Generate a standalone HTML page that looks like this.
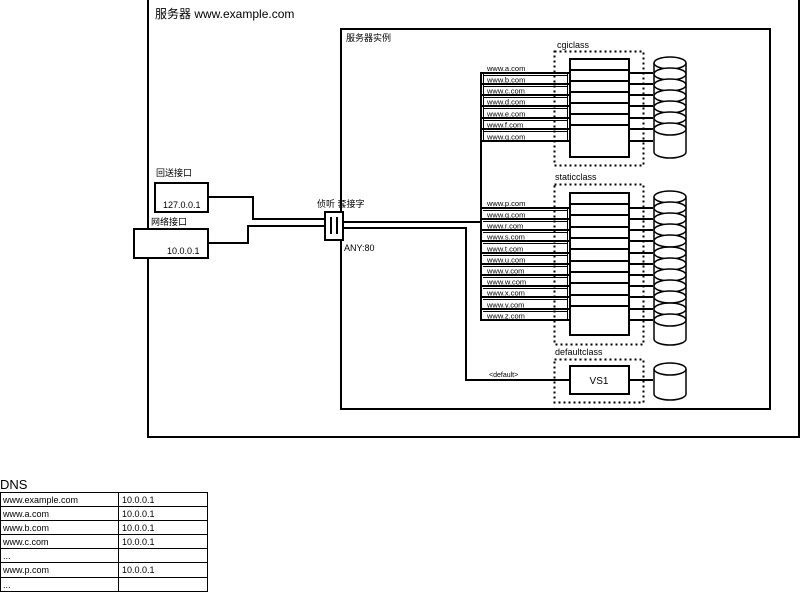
<!DOCTYPE html>
<html><head><meta charset="utf-8"><style>
body{margin:0;background:#fff}
svg{display:block}
text{font-family:"Liberation Sans","Noto Sans CJK SC",sans-serif;fill:#000}
.s{font-size:7.5px}
.t{font-size:9px}
</style></head><body>
<svg width="800" height="592" viewBox="0 0 800 592" xmlns="http://www.w3.org/2000/svg">
<g fill="none" stroke="#000" stroke-width="2">
<rect x="148" y="-1" width="651" height="438"/>
<rect x="341" y="29" width="429" height="380"/>
</g>
<text x="155" y="18" style="font-size:12px">服务器 www.example.com</text>
<text x="346" y="41" class="t">服务器实例</text>
<text x="557" y="48" class="t">cgiclass</text>
<rect x="554.5" y="51.5" width="89" height="114" fill="none" stroke="#000" stroke-width="2" stroke-dasharray="2,3"/>
<rect x="570" y="59" width="59" height="98" fill="#fff" stroke="#000" stroke-width="2"/>
<g stroke="#000" stroke-width="2">
<line x1="570" y1="70" x2="629" y2="70"/><line x1="570" y1="81" x2="629" y2="81"/><line x1="570" y1="92" x2="629" y2="92"/><line x1="570" y1="103" x2="629" y2="103"/><line x1="570" y1="114" x2="629" y2="114"/><line x1="570" y1="125" x2="629" y2="125"/>
<line x1="481" y1="73" x2="570" y2="73"/><line x1="481" y1="84" x2="570" y2="84"/><line x1="481" y1="95" x2="570" y2="95"/><line x1="481" y1="106" x2="570" y2="106"/><line x1="481" y1="118" x2="570" y2="118"/><line x1="481" y1="129" x2="570" y2="129"/><line x1="481" y1="141" x2="570" y2="141"/>
<line x1="629" y1="73" x2="653" y2="73"/><line x1="629" y1="84" x2="653" y2="84"/><line x1="629" y1="95" x2="653" y2="95"/><line x1="629" y1="106" x2="653" y2="106"/><line x1="629" y1="118" x2="653" y2="118"/><line x1="629" y1="129" x2="653" y2="129"/><line x1="629" y1="141" x2="653" y2="141"/>
</g>
<g stroke="#000" stroke-width="1"><line x1="483.5" y1="74" x2="483.5" y2="141"/><line x1="567.5" y1="74" x2="567.5" y2="141"/>
<line x1="483" y1="75.5" x2="568" y2="75.5"/><line x1="483" y1="86.5" x2="568" y2="86.5"/><line x1="483" y1="97.5" x2="568" y2="97.5"/><line x1="483" y1="108.5" x2="568" y2="108.5"/><line x1="483" y1="120.5" x2="568" y2="120.5"/><line x1="483" y1="131.5" x2="568" y2="131.5"/></g>
<text x="487" y="71" class="s">www.a.com</text><text x="487" y="82.5" class="s">www.b.com</text><text x="487" y="93.5" class="s">www.c.com</text><text x="487" y="104.5" class="s">www.d.com</text><text x="487" y="116.5" class="s">www.e.com</text><text x="487" y="127.5" class="s">www.f.com</text><text x="487" y="139.5" class="s">www.g.com</text>
<g fill="#fff" stroke="#000" stroke-width="1.5">
<path d="M654 63 V152 A16 6 0 0 0 686 152 V63"/>
<ellipse cx="670" cy="63" rx="16" ry="6"/><ellipse cx="670" cy="74" rx="16" ry="6"/><ellipse cx="670" cy="85" rx="16" ry="6"/><ellipse cx="670" cy="96" rx="16" ry="6"/><ellipse cx="670" cy="107" rx="16" ry="6"/><ellipse cx="670" cy="118" rx="16" ry="6"/><ellipse cx="670" cy="129" rx="16" ry="6"/>
</g>
<text x="555" y="180" class="t">staticclass</text>
<rect x="554.5" y="184.5" width="89" height="160" fill="none" stroke="#000" stroke-width="2" stroke-dasharray="2,3"/>
<rect x="570" y="193" width="59" height="142" fill="#fff" stroke="#000" stroke-width="2"/>
<g stroke="#000" stroke-width="2">
<line x1="570" y1="204" x2="629" y2="204"/><line x1="570" y1="215" x2="629" y2="215"/><line x1="570" y1="227" x2="629" y2="227"/><line x1="570" y1="238" x2="629" y2="238"/><line x1="570" y1="249" x2="629" y2="249"/><line x1="570" y1="261" x2="629" y2="261"/><line x1="570" y1="272" x2="629" y2="272"/><line x1="570" y1="283" x2="629" y2="283"/><line x1="570" y1="295" x2="629" y2="295"/><line x1="570" y1="306" x2="629" y2="306"/>
<line x1="481" y1="208" x2="570" y2="208"/><line x1="481" y1="219" x2="570" y2="219"/><line x1="481" y1="230" x2="570" y2="230"/><line x1="481" y1="241" x2="570" y2="241"/><line x1="481" y1="253" x2="570" y2="253"/><line x1="481" y1="264" x2="570" y2="264"/><line x1="481" y1="275" x2="570" y2="275"/><line x1="481" y1="286" x2="570" y2="286"/><line x1="481" y1="297" x2="570" y2="297"/><line x1="481" y1="309" x2="570" y2="309"/><line x1="481" y1="320" x2="570" y2="320"/>
<line x1="629" y1="208" x2="653" y2="208"/><line x1="629" y1="219" x2="653" y2="219"/><line x1="629" y1="230" x2="653" y2="230"/><line x1="629" y1="241" x2="653" y2="241"/><line x1="629" y1="253" x2="653" y2="253"/><line x1="629" y1="264" x2="653" y2="264"/><line x1="629" y1="275" x2="653" y2="275"/><line x1="629" y1="286" x2="653" y2="286"/><line x1="629" y1="297" x2="653" y2="297"/><line x1="629" y1="309" x2="653" y2="309"/><line x1="629" y1="320" x2="653" y2="320"/>
<line x1="481" y1="72" x2="481" y2="321"/>
</g>
<g stroke="#000" stroke-width="1"><line x1="567.5" y1="209" x2="567.5" y2="320"/>
<line x1="483" y1="210.5" x2="568" y2="210.5"/><line x1="483" y1="221.5" x2="568" y2="221.5"/><line x1="483" y1="232.5" x2="568" y2="232.5"/><line x1="483" y1="243.5" x2="568" y2="243.5"/><line x1="483" y1="255.5" x2="568" y2="255.5"/><line x1="483" y1="266.5" x2="568" y2="266.5"/><line x1="483" y1="277.5" x2="568" y2="277.5"/><line x1="483" y1="288.5" x2="568" y2="288.5"/><line x1="483" y1="299.5" x2="568" y2="299.5"/><line x1="483" y1="311.5" x2="568" y2="311.5"/></g>
<text x="487" y="206" class="s">www.p.com</text><text x="487" y="217.5" class="s">www.q.com</text><text x="487" y="228.5" class="s">www.r.com</text><text x="487" y="239.5" class="s">www.s.com</text><text x="487" y="251.5" class="s">www.t.com</text><text x="487" y="262.5" class="s">www.u.com</text><text x="487" y="273.5" class="s">www.v.com</text><text x="487" y="284.5" class="s">www.w.com</text><text x="487" y="295.5" class="s">www.x.com</text><text x="487" y="307.5" class="s">www.y.com</text><text x="487" y="318.5" class="s">www.z.com</text>
<g fill="#fff" stroke="#000" stroke-width="1.5">
<path d="M654 197 V339 A16 6 0 0 0 686 339 V197"/>
<ellipse cx="670" cy="197" rx="16" ry="6"/><ellipse cx="670" cy="208" rx="16" ry="6"/><ellipse cx="670" cy="219" rx="16" ry="6"/><ellipse cx="670" cy="230" rx="16" ry="6"/><ellipse cx="670" cy="241" rx="16" ry="6"/><ellipse cx="670" cy="253" rx="16" ry="6"/><ellipse cx="670" cy="264" rx="16" ry="6"/><ellipse cx="670" cy="275" rx="16" ry="6"/><ellipse cx="670" cy="286" rx="16" ry="6"/><ellipse cx="670" cy="297" rx="16" ry="6"/><ellipse cx="670" cy="309" rx="16" ry="6"/><ellipse cx="670" cy="320" rx="16" ry="6"/>
</g>
<text x="555" y="355" class="t">defaultclass</text>
<rect x="554.5" y="359.5" width="89" height="43" fill="none" stroke="#000" stroke-width="2" stroke-dasharray="2,3"/>
<rect x="570" y="366" width="59" height="28" fill="#fff" stroke="#000" stroke-width="2"/>
<text x="599" y="384" text-anchor="middle" style="font-size:10px">VS1</text>
<g stroke="#000" stroke-width="2" fill="none">
<polyline points="343,228 466,228 466,380 570,380"/>
<line x1="343" y1="222" x2="481" y2="222"/>
<line x1="629" y1="380" x2="653" y2="380"/>
</g>
<text x="489" y="377" style="font-size:7px">&lt;default&gt;</text>
<g fill="#fff" stroke="#000" stroke-width="1.5">
<path d="M654 369 V394 A16 6 0 0 0 686 394 V369"/>
<ellipse cx="670" cy="369" rx="16" ry="6"/>
</g>
<g stroke="#000" stroke-width="2" fill="none">
<polyline points="208,197 253,197 253,219 325,219"/>
<polyline points="208,243 248,243 248,226 325,226"/>
</g>
<rect x="155" y="183" width="53" height="29" fill="#fff" stroke="#000" stroke-width="2"/>
<rect x="134" y="229" width="74" height="29" fill="#fff" stroke="#000" stroke-width="2"/>
<text x="156" y="176" class="t">回送接口</text>
<text x="163" y="208" class="t">127.0.0.1</text>
<text x="151" y="225" class="t">网络接口</text>
<text x="167" y="254" class="t">10.0.0.1</text>
<rect x="325" y="212" width="18" height="28" fill="#fff" stroke="#000" stroke-width="2"/>
<g stroke="#000" stroke-width="2"><line x1="331" y1="217" x2="331" y2="234"/><line x1="337" y1="217" x2="337" y2="234"/></g>
<text x="317" y="207" class="t">侦听 套接字</text>
<text x="344" y="251" class="t">ANY:80</text>
<text x="0" y="489" style="font-size:13px">DNS</text>
<g fill="none" stroke="#000" stroke-width="1">
<rect x="0.5" y="492.5" width="207" height="99"/>
<line x1="118.5" y1="492" x2="118.5" y2="592"/>
<line x1="0" y1="506.5" x2="207" y2="506.5"/><line x1="0" y1="520.5" x2="207" y2="520.5"/><line x1="0" y1="534.5" x2="207" y2="534.5"/><line x1="0" y1="548.5" x2="207" y2="548.5"/><line x1="0" y1="562.5" x2="207" y2="562.5"/><line x1="0" y1="577.5" x2="207" y2="577.5"/>
</g>
<text x="3" y="503" class="t">www.example.com</text><text x="122" y="503" class="t">10.0.0.1</text>
<text x="3" y="517" class="t">www.a.com</text><text x="122" y="517" class="t">10.0.0.1</text>
<text x="3" y="531" class="t">www.b.com</text><text x="122" y="531" class="t">10.0.0.1</text>
<text x="3" y="545" class="t">www.c.com</text><text x="122" y="545" class="t">10.0.0.1</text>
<text x="3" y="559" class="t">...</text>
<text x="3" y="573" class="t">www.p.com</text><text x="122" y="573" class="t">10.0.0.1</text>
<text x="3" y="588" class="t">...</text>
</svg>
</body></html>
